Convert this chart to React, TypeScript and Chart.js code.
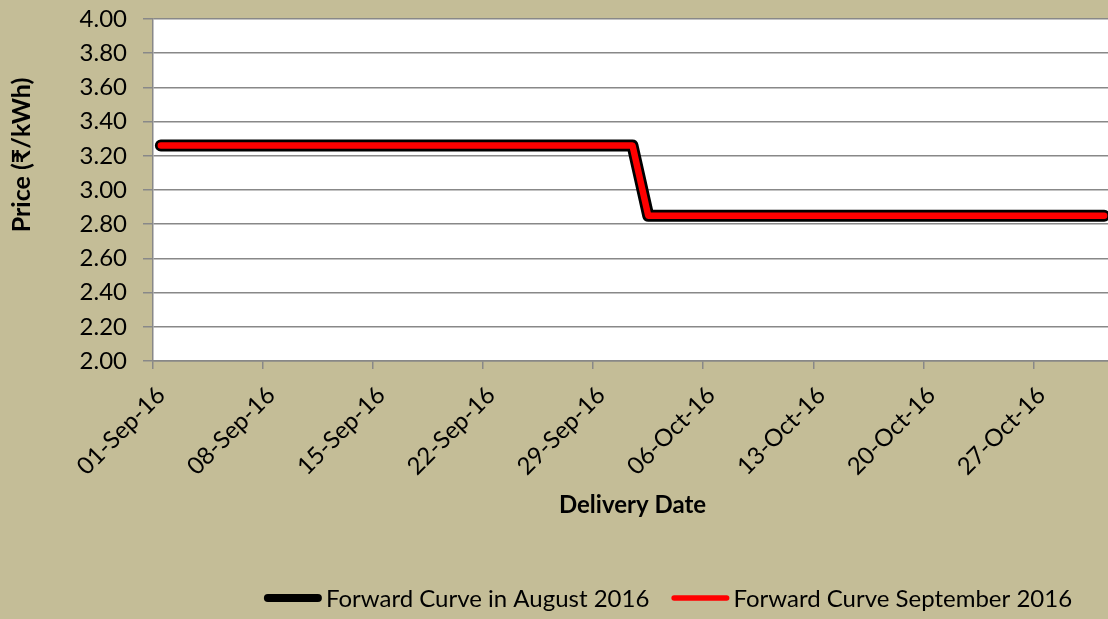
import React, { useEffect, useRef } from "react";
import { Chart, registerables } from "chart.js";

Chart.register(...registerables);

// ---- data ----
const curveDates = ["01-Sep-16", "01-Oct-16", "02-Oct-16", "31-Oct-16"];
const curveDayIndex = [0, 30, 31, 60]; // days after 01-Sep-16
const augustCurve = [3.26, 3.26, 2.85, 2.85];
const septemberCurve = [3.26, 3.26, 2.85, 2.85];
const seriesLabels = ["Forward Curve in August 2016", "Forward Curve September 2016"];
const seriesColors = ["#000000", "#ff0000"];

const xTickLabels = [
  "01-Sep-16", "08-Sep-16", "15-Sep-16", "22-Sep-16", "29-Sep-16",
  "06-Oct-16", "13-Oct-16", "20-Oct-16", "27-Oct-16",
];
const xTickDays = [0, 7, 14, 21, 28, 35, 42, 49, 56];
const yTickValues = [2.0, 2.2, 2.4, 2.6, 2.8, 3.0, 3.2, 3.4, 3.6, 3.8, 4.0];
const totalDays = 61; // 01-Sep .. 31-Oct

const xTitle = "Delivery Date";
const yTitle = "Price (₹/kWh)";

const FONT = "Lato, 'Noto Sans', 'DejaVu Sans', sans-serif";
const FS = 24;
const BG = "#C4BD97";
const GRID = "#888888";

export default function App() {
  const ref = useRef<HTMLCanvasElement | null>(null);

  useEffect(() => {
    const canvas = ref.current;
    if (!canvas) return;

    const bgPlugin = {
      id: "bgPlugin",
      beforeDraw(chart: any) {
        const { ctx, chartArea } = chart;
        ctx.save();
        ctx.fillStyle = BG;
        ctx.fillRect(0, 0, chart.width, chart.height);
        ctx.fillStyle = "#ffffff";
        ctx.fillRect(chartArea.left, chartArea.top, chartArea.right - chartArea.left, chartArea.bottom - chartArea.top);
        ctx.restore();
      },
      afterDraw(chart: any) {
        const { ctx } = chart;
        ctx.save();
        // y axis title
        ctx.translate(22, 155);
        ctx.rotate(-Math.PI / 2);
        ctx.font = `bold 25px ${FONT}`;
        ctx.fillStyle = "#000";
        ctx.textAlign = "center";
        ctx.textBaseline = "middle";
        ctx.fillText(yTitle, 0, 0);
        ctx.restore();

        // legend
        ctx.save();
        ctx.font = `${FS}px ${FONT}`;
        ctx.textBaseline = "middle";
        ctx.textAlign = "left";
        const lineLen = 58;
        const gap = 4;
        const itemGap = 22;
        const widths = seriesLabels.map((l) => ctx.measureText(l).width);
        const total = widths.reduce((a, w) => a + lineLen + gap + w, 0) + itemGap * (seriesLabels.length - 1);
        let x = 668 - total / 2;
        const y = 598;
        const lw = [8, 5.5];
        seriesLabels.forEach((label, i) => {
          ctx.strokeStyle = seriesColors[i];
          ctx.lineWidth = lw[i];
          ctx.lineCap = "round";
          ctx.beginPath();
          ctx.moveTo(x + lw[i] / 2, y);
          ctx.lineTo(x + lineLen - lw[i] / 2, y);
          ctx.stroke();
          ctx.fillStyle = "#000";
          ctx.fillText(label, x + lineLen + gap, y + 1);
          x += lineLen + gap + widths[i] + itemGap;
        });
        ctx.restore();
      },
    };

    const toPoints = (vals: number[]) =>
      vals.map((v, i) => ({ x: curveDayIndex[i] + 0.5, y: v, date: curveDates[i] }));

    const titleLH = FS * 1.2;
    const xAxisHeight = 505 + titleLH / 2 - 361;

    const chart = new Chart(canvas, {
      type: "line",
      data: {
        datasets: [
          {
            label: seriesLabels[0],
            data: toPoints(augustCurve),
            borderColor: seriesColors[0],
            backgroundColor: seriesColors[0],
            borderWidth: 12,
            pointRadius: 0,
            borderCapStyle: "round",
            borderJoinStyle: "round",
            tension: 0,
            order: 1,
          },
          {
            label: seriesLabels[1],
            data: toPoints(septemberCurve),
            borderColor: seriesColors[1],
            backgroundColor: seriesColors[1],
            borderWidth: 6.5,
            pointRadius: 0,
            borderCapStyle: "round",
            borderJoinStyle: "round",
            tension: 0,
            order: 0,
          },
        ],
      },
      options: {
        animation: false,
        responsive: false,
        devicePixelRatio: 1,
        layout: { padding: { top: 19, left: 0, right: 0, bottom: 619 - 361 - xAxisHeight } },
        plugins: { legend: { display: false }, tooltip: { enabled: false } },
        scales: {
          x: {
            type: "linear",
            min: 0,
            max: totalDays,
            afterBuildTicks: (scale: any) => {
              scale.ticks = xTickDays.map((v) => ({ value: v }));
            },
            afterFit: (scale: any) => {
              scale.height = xAxisHeight;
              scale.paddingLeft = 0;
              scale.paddingRight = 0;
            },
            ticks: {
              autoSkip: false,
              minRotation: 45,
              maxRotation: 45,
              padding: 12,
              labelOffset: 8,
              color: "#000",
              font: { family: FONT, size: FS },
              callback: (value: any) => {
                const i = xTickDays.indexOf(Number(value));
                return i >= 0 ? xTickLabels[i] : "";
              },
            },
            grid: {
              drawOnChartArea: false,
              drawTicks: true,
              tickLength: 8,
              color: GRID,
              lineWidth: 1.5,
            },
            border: { display: true, color: GRID, width: 1.5 },
            title: {
              display: true,
              text: xTitle,
              color: "#000",
              font: { family: FONT, size: FS, weight: "bold" },
              padding: { top: 0, bottom: 0 },
            },
          },
          y: {
            type: "linear",
            min: 2,
            max: 4,
            afterBuildTicks: (scale: any) => {
              scale.ticks = yTickValues.map((v) => ({ value: v }));
            },
            afterFit: (scale: any) => {
              scale.width = 153;
              scale.paddingTop = 0;
              scale.paddingBottom = 0;
            },
            ticks: {
              padding: 16,
              color: "#000",
              font: { family: FONT, size: FS },
              callback: (value: any) => Number(value).toFixed(2),
            },
            grid: {
              drawTicks: true,
              tickLength: 10,
              color: GRID,
              lineWidth: 1.5,
            },
            border: { display: true, color: GRID, width: 1.5 },
          },
        },
      },
      plugins: [bgPlugin],
    } as any);

    return () => chart.destroy();
  }, []);

  return (
    <div
      style={{
        position: "fixed",
        left: 0,
        top: 0,
        width: 1108,
        height: 619,
        overflow: "hidden",
        background: BG,
      }}
    >
      <canvas ref={ref} width={1112} height={619} style={{ display: "block" }} />
    </div>
  );
}
